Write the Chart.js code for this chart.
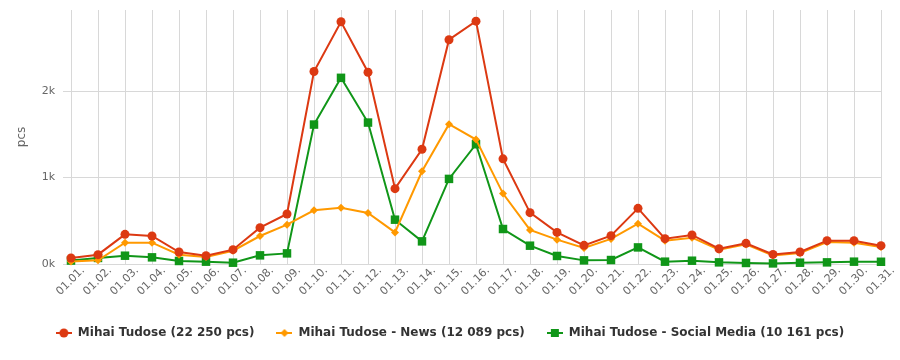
<!DOCTYPE html>
<html>
<head>
<meta charset="utf-8">
<script src="https://cdn.jsdelivr.net/npm/chart.js@4/dist/chart.umd.min.js"></script>
<style>
  html, body { margin: 0; padding: 0; background: #fff; }
  #wrap { width: 900px; height: 360px; position: relative; }
</style>
</head>
<body>
<div id="wrap"><canvas id="c" width="900" height="360"></canvas></div>
<script>
const categories = ["01.01.","01.02.","01.03.","01.04.","01.05.","01.06.","01.07.","01.08.","01.09.","01.10.",
  "01.11.","01.12.","01.13.","01.14.","01.15.","01.16.","01.17.","01.18.","01.19.","01.20.",
  "01.21.","01.22.","01.23.","01.24.","01.25.","01.26.","01.27.","01.28.","01.29.","01.30.","01.31."];

const seriesNames = ["Mihai Tudose (22 250 pcs)", "Mihai Tudose - News (12 089 pcs)", "Mihai Tudose - Social Media (10 161 pcs)"];

const totalValues = [70,108,343,324,139,96,166,421,579,2228,
  2804,2220,872,1328,2596,2811,1217,594,366,216,
  328,644,293,336,177,239,111,139,270,270,212];

const newsValues = [30,42,247,247,108,81,154,324,455,621,
  652,591,366,1073,1618,1440,815,394,282,185,
  290,467,270,305,166,227,100,127,255,247,197];

const socialValues = [40,70,96,77,35,27,15,100,123,1614,
  2155,1637,513,262,985,1386,405,212,93,42,
  46,192,27,38,19,12,7,15,19,27,26];

const yTicks = [0, 1000, 2000];
const yTickLabels = ["0k", "1k", "2k"];

const colors = ["#dc3912", "#ff9900", "#109618"];
const pointStyles = ["circle", "rectRot", "rect"];
const pointRadii = [4.5, 4, 6];

function legendIcon(color, style) {
  const cv = document.createElement('canvas');
  cv.width = 16; cv.height = 12;
  const g = cv.getContext('2d');
  g.strokeStyle = color; g.fillStyle = color; g.lineWidth = 2;
  g.beginPath(); g.moveTo(0, 6); g.lineTo(16, 6); g.stroke();
  g.beginPath();
  if (style === 'circle') { g.arc(8, 6, 4.5, 0, Math.PI * 2); }
  else if (style === 'rectRot') { g.moveTo(8, 2); g.lineTo(12, 6); g.lineTo(8, 10); g.lineTo(4, 6); g.closePath(); }
  else { g.rect(4, 2, 8, 8); }
  g.fill();
  return cv;
}

const seriesValues = [totalValues, newsValues, socialValues];
const datasets = seriesValues.map((vals, i) => ({
  label: seriesNames[i],
  data: vals,
  borderColor: colors[i],
  backgroundColor: colors[i],
  borderWidth: 2,
  pointStyle: pointStyles[i],
  pointRadius: pointRadii[i],
  pointHoverRadius: pointRadii[i],
  pointBorderWidth: 0,
  tension: 0,
  clip: false,
  order: i
}));

new Chart(document.getElementById('c'), {
  type: 'line',
  data: { labels: categories, datasets: datasets },
  options: {
    responsive: false,
    animation: false,
    events: [],
    layout: { padding: { left: 19, right: 19, top: 10, bottom: 11 } },
    scales: {
      x: {
        grid: { color: '#d8d8d8', drawTicks: false, lineWidth: 1 },
        border: { display: false },
        ticks: {
          color: '#666666',
          font: { family: 'DejaVu Sans', size: 11 },
          minRotation: 45, maxRotation: 45,
          autoSkip: false,
          padding: 0,
          labelOffset: 12
        },
        afterFit: (s) => { s.height = 41; }
      },
      y: {
        min: 0, max: 2940,
        grid: { color: '#d8d8d8', tickLength: 8, lineWidth: 1 },
        border: { display: false },
        afterBuildTicks: (s) => { s.ticks = yTicks.map(v => ({ value: v })); },
        ticks: {
          color: '#666666',
          font: { family: 'DejaVu Sans', size: 11 },
          padding: 8,
          callback: (v) => { const k = yTicks.indexOf(v); return k >= 0 ? yTickLabels[k] : null; }
        },
        title: {
          display: true, text: 'pcs', color: '#666666',
          font: { family: 'DejaVu Sans', size: 12 },
          padding: { top: -4, bottom: 0 }
        },
        afterFit: (s) => { s.width = 52; s.paddingTop = 0; }
      }
    },
    plugins: {
      tooltip: { enabled: false },
      legend: {
        position: 'bottom',
        labels: {
          color: '#333333',
          font: { family: 'DejaVu Sans', size: 12, weight: 'bold' },
          usePointStyle: true,
          pointStyleWidth: 16,
          padding: 22,
          generateLabels: (chart) => chart.data.datasets.map((ds, i) => ({
            text: ds.label,
            fontColor: '#333333',
            pointStyle: legendIcon(colors[i], pointStyles[i]),
            datasetIndex: i,
            hidden: false,
            lineWidth: 0,
            strokeStyle: colors[i],
            fillStyle: colors[i]
          }))
        }
      }
    }
  }
});
</script>
</body>
</html>
